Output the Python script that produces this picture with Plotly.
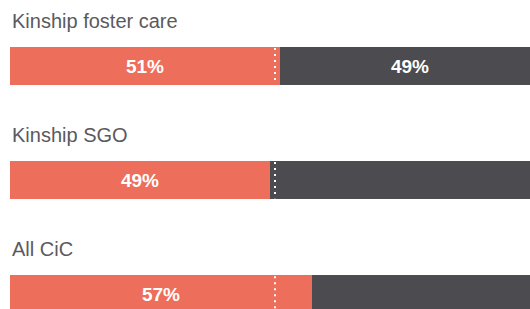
import plotly.graph_objects as go

categories = ["Kinship foster care", "Kinship SGO", "All CiC"]
first_share = [51, 49, 57]
second_share = [49, 51, 43]
first_labels = ["51%", "49%", "57%"]
second_labels = ["49%", "", ""]
benchmark = [50, 50, 50]

ORANGE = "#ED6E5A"
GREY = "#4C4B50"
BAR_W = 0.337

ypos = list(range(len(categories)))

fig = go.Figure()
fig.add_trace(go.Bar(
    y=ypos, x=first_share, orientation="h", width=BAR_W,
    marker=dict(color=ORANGE, line=dict(width=0)),
    text=first_labels, textposition="inside", insidetextanchor="middle",
    textangle=0, constraintext="none",
    textfont=dict(family="Liberation Sans", size=19, color="white", weight="bold"),
    hoverinfo="skip",
))
fig.add_trace(go.Bar(
    y=ypos, x=second_share, orientation="h", width=BAR_W,
    marker=dict(color=GREY, line=dict(width=0)),
    text=second_labels, textposition="inside", insidetextanchor="middle",
    textangle=0, constraintext="none",
    textfont=dict(family="Liberation Sans", size=19, color="white", weight="bold"),
    hoverinfo="skip",
))

for i, (cat, b) in enumerate(zip(categories, benchmark)):
    fig.add_shape(type="line", xref="x", yref="y", x0=b, x1=b,
                  y0=i - BAR_W / 2 + 0.01, y1=i + BAR_W / 2 - 0.01,
                  line=dict(color="white", width=2, dash="2px,4px"), layer="above")
    fig.add_annotation(text=cat, xref="paper", yref="y", x=0, y=i - 0.394,
                       xanchor="left", yanchor="middle", showarrow=False,
                       font=dict(family="Liberation Sans", size=20, color="#5a5a5e"))

fig.update_layout(
    width=530, height=309, barmode="stack",
    margin=dict(l=10, r=0, t=0, b=0),
    paper_bgcolor="white", plot_bgcolor="white",
    showlegend=False, bargap=0,
    xaxis=dict(range=[0, 520 / 530 * 100], visible=False, fixedrange=True),
    yaxis=dict(range=[2.128, -0.578], visible=False, fixedrange=True),
    hovermode=False,
)

fig.write_html("out.html", config={"displayModeBar": False},
               post_script="document.body.style.margin='0';document.body.style.overflow='hidden';")
